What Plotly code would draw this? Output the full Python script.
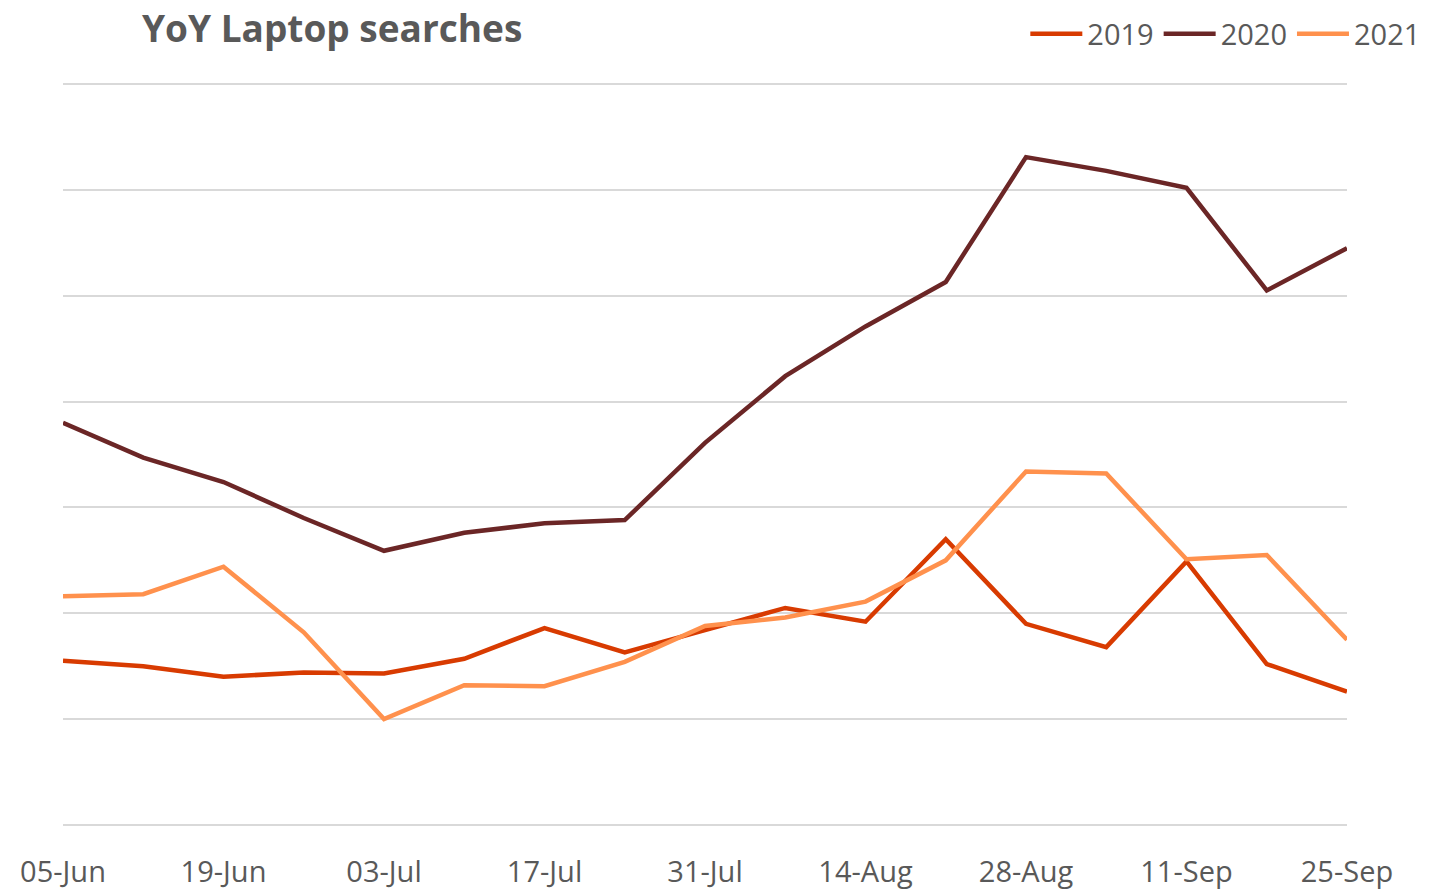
import plotly.graph_objects as go

dates = ["05-Jun", "12-Jun", "19-Jun", "26-Jun", "03-Jul", "10-Jul", "17-Jul", "24-Jul",
         "31-Jul", "07-Aug", "14-Aug", "21-Aug", "28-Aug", "04-Sep", "11-Sep", "18-Sep", "25-Sep"]
tick_labels = ["05-Jun", "19-Jun", "03-Jul", "17-Jul", "31-Jul", "14-Aug", "28-Aug", "11-Sep", "25-Sep"]

s2019 = [1.55, 1.50, 1.40, 1.44, 1.43, 1.57, 1.86, 1.63, 1.84, 2.05, 1.92, 2.70, 1.90, 1.68, 2.49, 1.52, 1.26]
s2020 = [3.80, 3.47, 3.24, 2.90, 2.59, 2.76, 2.85, 2.88, 3.61, 4.24, 4.71, 5.13, 6.31, 6.18, 6.02, 5.05, 5.45]
s2021 = [2.16, 2.18, 2.44, 1.82, 1.00, 1.32, 1.31, 1.54, 1.88, 1.96, 2.11, 2.50, 3.34, 3.32, 2.51, 2.55, 1.75]

series = [("2019", s2019, "#D83B01"), ("2020", s2020, "#6B2626"), ("2021", s2021, "#FF914D")]

fig = go.Figure()
for name, vals, color in series:
    fig.add_trace(go.Scatter(x=dates, y=vals, name=name, mode="lines",
                             line=dict(color=color, width=4.5)))

W, H = 1442, 882
fig.update_layout(
    width=W, height=H,
    margin=dict(l=55, r=103, t=74, b=63, autoexpand=False),
    paper_bgcolor="white", plot_bgcolor="white",
    font=dict(family="Open Sans, Noto Sans, sans-serif", color="#595959"),
    title=dict(text="<b>YoY Laptop searches</b>", x=134/W, xanchor="left",
               y=1-21/H, yanchor="middle",
               font=dict(size=37, color="#595959")),
    legend=dict(orientation="h", x=1.061, xanchor="right", y=1 + 48/745, yanchor="middle",
                font=dict(size=29, color="#595959"), itemwidth=52,
                tracegroupgap=0, bgcolor="rgba(0,0,0,0)"),
    showlegend=True,
)
fig.update_xaxes(type="category", categoryorder="array", categoryarray=dates,
                 range=[0, len(dates) - 1], tickmode="array", tickvals=tick_labels,
                 ticktext=tick_labels, showgrid=False, zeroline=False, showline=False,
                 ticks="", ticklabelstandoff=25, automargin=False,
                 tickfont=dict(size=29, color="#595959"))
fig.update_yaxes(range=[-0.02, 7.02], dtick=1, showgrid=True, gridcolor="#D9D9D9", gridwidth=2,
                 showticklabels=False, zeroline=False, showline=False, ticks="", automargin=False)

fig.write_html("out.html")
